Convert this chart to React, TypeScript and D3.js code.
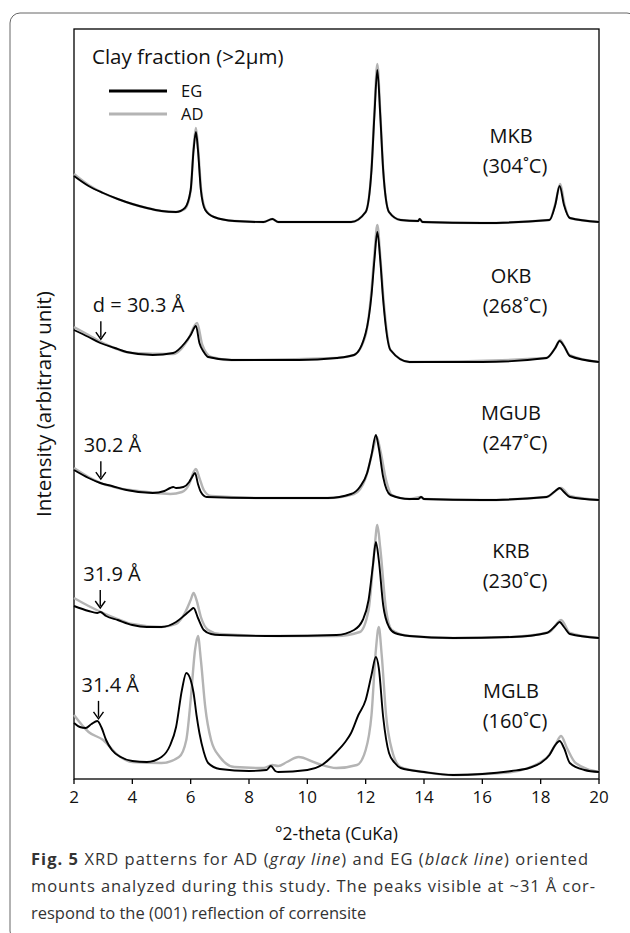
import React from "react";
import * as d3 from "d3";

// 2-theta ticks
const twoThetaTicks = [2, 4, 6, 8, 10, 12, 14, 16, 18, 20];

// samples from top to bottom
const sampleNames = ["MKB", "OKB", "MGUB", "KRB", "MGLB"];
const sampleTemps = ["304", "268", "247", "230", "160"];
const stackOffsets = [555, 415, 278, 140, 0];
const peakLabels = ["", "d = 30.3 Å", "30.2 Å", "31.9 Å", "31.4 Å"];
const peakPositions = [NaN, 2.92, 2.92, 2.9, 2.84];

type Pt = [number, number];

// [2theta, intensity above the sample's own baseline]
const mkbEG: Pt[] = [
  [2, 48], [2.5, 38], [3, 31], [3.5, 25], [4, 20], [4.5, 16], [5, 13], [5.5, 12], [5.8, 16],
  [6.0, 34], [6.1, 74], [6.18, 92], [6.25, 74], [6.35, 34], [6.5, 14], [6.8, 7], [7.5, 3],
  [8.5, 2], [8.8, 5], [9.0, 2], [11.5, 2], [12.0, 12], [12.2, 54], [12.3, 109], [12.4, 154],
  [12.5, 109], [12.6, 54], [12.8, 12], [13.2, 4], [13.8, 3], [13.85, 5], [13.95, 2], [16, 1],
  [18.3, 4], [18.5, 19], [18.65, 38], [18.8, 19], [19.0, 6], [20, 2],
];
const mkbAD: Pt[] = [
  [2, 50], [2.5, 39], [3, 31], [3.5, 25], [4, 20], [4.5, 16], [5, 13], [5.5, 12], [5.8, 15],
  [6.0, 33], [6.1, 76], [6.18, 96], [6.26, 74], [6.36, 34], [6.5, 15], [6.8, 7], [7.5, 3],
  [8.5, 2], [8.8, 5], [9.0, 2], [11.5, 2], [12.0, 12], [12.2, 55], [12.3, 113], [12.4, 160],
  [12.5, 112], [12.6, 55], [12.8, 12], [13.2, 4], [13.8, 3], [13.85, 5], [13.95, 2], [16, 1],
  [18.3, 4], [18.5, 20], [18.67, 40], [18.82, 19], [19.0, 6], [20, 2],
];
const okbEG: Pt[] = [
  [2, 34], [2.5, 27], [2.9, 21], [3.4, 16], [3.8, 12], [4.7, 9], [5.4, 11], [5.8, 21],
  [6.0, 29], [6.18, 38], [6.3, 21], [6.45, 12], [6.6, 7], [7.4, 4], [9.7, 4], [11.0, 6],
  [11.6, 9], [12.0, 31], [12.2, 69], [12.3, 104], [12.4, 132], [12.5, 104], [12.6, 64],
  [12.85, 14], [13.5, 2], [16, 2], [18.2, 6], [18.5, 16], [18.65, 23], [18.8, 18], [19.0, 8],
  [20, 2],
];
const okbAD: Pt[] = [
  [2, 37], [2.5, 29], [3, 21], [4, 11], [5.4, 10], [5.9, 24], [6.22, 41], [6.4, 19], [6.7, 7],
  [7.4, 4], [11.0, 6], [11.6, 9], [12.0, 29], [12.2, 74], [12.3, 110], [12.4, 139], [12.5, 108],
  [12.6, 69], [12.85, 14], [13.5, 2], [18.2, 6], [18.5, 16], [18.67, 24], [18.82, 17], [19, 9],
  [20, 2],
];
const mgubEG: Pt[] = [
  [2, 31], [2.5, 23], [2.9, 18], [3.3, 15], [3.8, 11], [4.7, 8], [5.1, 10], [5.3, 13], [5.4, 14],
  [5.5, 13], [5.75, 14], [5.95, 19], [6.05, 24], [6.15, 28], [6.25, 17], [6.35, 9], [6.55, 4],
  [8.4, 3], [10.7, 3], [11.5, 7], [11.8, 14], [12.05, 28], [12.2, 46], [12.35, 66], [12.45, 53],
  [12.6, 24], [12.85, 6], [13.5, 2], [13.8, 2], [13.9, 4], [14.0, 2], [16, 1], [18.2, 4],
  [18.5, 10], [18.65, 13], [18.8, 9], [19.0, 4], [20, 1],
];
const mgubAD: Pt[] = [
  [2, 33], [2.5, 24], [3, 17], [3.5, 13], [4.5, 9], [5.3, 7], [5.7, 9], [5.95, 17], [6.1, 29],
  [6.18, 32], [6.3, 23], [6.45, 11], [6.7, 5], [8.5, 3], [10.7, 3], [11.6, 7], [12.0, 23],
  [12.25, 51], [12.38, 64], [12.5, 51], [12.7, 21], [12.9, 6], [13.5, 2], [13.9, 4], [14.0, 2],
  [16, 1], [18.2, 4], [18.7, 13], [19.0, 5], [20, 1],
];
const krbEG: Pt[] = [
  [2, 33], [2.5, 28], [2.8, 26], [2.9, 27], [3.1, 23], [3.5, 19], [4, 14], [4.5, 12], [5, 12],
  [5.5, 17], [5.8, 24], [6.0, 29], [6.1, 31], [6.25, 21], [6.45, 9], [6.7, 5], [7, 4], [9, 3],
  [11, 4], [11.6, 9], [11.9, 19], [12.1, 39], [12.25, 74], [12.35, 97], [12.45, 79], [12.6, 34],
  [12.8, 12], [13, 6], [13.5, 3], [15, 1], [17, 2], [18.2, 6], [18.5, 13], [18.65, 17],
  [18.8, 12], [19.0, 5], [20, 1],
];
const krbAD: Pt[] = [
  [2, 41], [2.5, 33], [3, 26], [3.5, 20], [4, 15], [5, 12], [5.5, 15], [5.8, 26], [6.0, 39],
  [6.1, 46], [6.2, 39], [6.35, 22], [6.6, 9], [7, 5], [9, 3], [11, 3], [11.8, 7], [12.1, 29],
  [12.3, 89], [12.4, 114], [12.5, 91], [12.7, 29], [12.9, 9], [13.5, 3], [15, 1], [17, 2],
  [18.3, 7], [18.7, 19], [19, 6], [20, 1],
];
const mglbEG: Pt[] = [
  [2, 56], [2.2, 52], [2.4, 51], [2.6, 55], [2.8, 58], [2.95, 51], [3.1, 39], [3.3, 29],
  [3.6, 22], [4.0, 18], [4.5, 17], [5.0, 22], [5.3, 34], [5.5, 52], [5.7, 89], [5.85, 106],
  [6.0, 99], [6.1, 86], [6.2, 64], [6.3, 46], [6.45, 27], [6.6, 16], [7, 10], [8, 8], [8.6, 9],
  [8.75, 13], [8.9, 8], [9, 7], [10, 9], [10.5, 14], [11, 27], [11.3, 37], [11.5, 46],
  [11.75, 64], [12.0, 79], [12.2, 104], [12.35, 122], [12.45, 111], [12.6, 62], [12.8, 26],
  [13.0, 16], [13.2, 11], [14, 7], [15, 4], [16, 5], [17, 8], [17.6, 11], [18.0, 16], [18.3, 24],
  [18.5, 34], [18.65, 38], [18.8, 31], [19, 16], [19.5, 9], [20, 7],
];
const mglbAD: Pt[] = [
  [2, 64], [2.5, 47], [3, 39], [3.5, 24], [4, 17], [5, 16], [5.6, 22], [5.85, 39], [6.0, 79],
  [6.15, 129], [6.25, 143], [6.35, 119], [6.5, 72], [6.7, 39], [7, 22], [7.5, 12], [8.5, 11],
  [8.8, 14], [9.0, 13], [9.3, 17], [9.7, 22], [10.3, 16], [11, 11], [11.7, 14], [12.0, 29],
  [12.2, 64], [12.35, 129], [12.45, 152], [12.55, 124], [12.7, 64], [12.9, 29], [13.2, 12],
  [14, 7], [15, 4], [16, 5], [17, 7], [18.2, 21], [18.5, 34], [18.7, 43], [18.9, 31], [19.2, 16],
  [20, 7],
];

const egSeries = [mkbEG, okbEG, mgubEG, krbEG, mglbEG];
const adSeries = [mkbAD, okbAD, mgubAD, krbAD, mglbAD];

const chartFont = "'Open Sans', sans-serif";

function valueAt(series: Pt[], t: number) {
  for (let i = 1; i < series.length; i++) {
    if (series[i][0] >= t) {
      const [x0, y0] = series[i - 1];
      const [x1, y1] = series[i];
      return y0 + ((t - x0) / (x1 - x0)) * (y1 - y0);
    }
  }
  return series[series.length - 1][1];
}

export default function App() {
  const width = 630;
  const height = 933;
  const x = d3.scaleLinear().domain([2, 20]).range([74, 599]);
  const y = d3.scaleLinear().domain([0, 750]).range([779, 29]);

  const lineFor = (offset: number) =>
    d3
      .line<Pt>()
      .x((d) => x(d[0]))
      .y((d) => y(d[1] + offset))
      .curve(d3.curveMonotoneX);

  const [x0, x1] = x.range();
  const [yb, yt] = y.range();

  return (
    <svg
      width={width}
      height={height}
      style={{ position: "absolute", left: 0, top: 0, background: "#fff" }}
    >
      {/* outer frame */}
      <rect x={10} y={13} width={627} height={928} rx={10} fill="none" stroke="#666" strokeWidth={1} />

      {/* plot frame */}
      <rect x={x0} y={yt} width={x1 - x0} height={yb - yt} fill="none" stroke="#000" strokeWidth={1.3} />

      {/* patterns */}
      {adSeries.map((s, i) => (
        <path key={"ad" + i} d={lineFor(stackOffsets[i])(s) || ""} fill="none" stroke="#b4b4b4" strokeWidth={2.4} />
      ))}
      {egSeries.map((s, i) => (
        <path key={"eg" + i} d={lineFor(stackOffsets[i])(s) || ""} fill="none" stroke="#000" strokeWidth={1.9} />
      ))}

      {/* sample names */}
      {sampleNames.map((n, i) => (
        <g key={n} fontFamily={chartFont} fontSize={20} textAnchor="middle" fill="#111">
          <text x={511} y={y(stackOffsets[i] + 88) + 7}>{n}</text>
          <text x={515} y={y(stackOffsets[i] + 58) + 7}>({sampleTemps[i]}˚C)</text>
        </g>
      ))}

      {/* d-spacing arrows */}
      {peakLabels.map((lab, i) => {
        if (!lab) return null;
        const ax = x(peakPositions[i]);
        const tip = y(stackOffsets[i] + valueAt(egSeries[i], peakPositions[i])) - 4;
        const top = tip - 18;
        return (
          <g key={lab}>
            <line x1={ax} x2={ax} y1={top} y2={tip - 2} stroke="#000" strokeWidth={1.4} />
            <path d={`M${ax - 5},${tip - 7} L${ax},${tip} L${ax + 5},${tip - 7}`} fill="none" stroke="#000" strokeWidth={1.4} />
            <text x={ax - (i === 1 ? 8 : 17)} y={top - 9} fontFamily={chartFont} fontSize={20} fill="#111">
              {lab}
            </text>
          </g>
        );
      })}

      {/* x axis ticks */}
      {twoThetaTicks.map((t) => (
        <g key={t}>
          <line x1={x(t)} x2={x(t)} y1={yb} y2={yb + 5} stroke="#000" strokeWidth={1.3} />
          <text x={x(t)} y={yb + 24} textAnchor="middle" fontFamily={chartFont} fontSize={17} fill="#111">
            {t}
          </text>
        </g>
      ))}
      <text x={(x0 + x1) / 2} y={840} textAnchor="middle" fontFamily={chartFont} fontSize={17.5} fill="#111">
        °2-theta (CuKa)
      </text>
      <text
        transform={`translate(51,${(yb + yt) / 2}) rotate(-90)`}
        textAnchor="middle"
        fontFamily={chartFont}
        fontSize={20.5}
        fill="#111"
      >
        Intensity (arbitrary unit)
      </text>

      {/* legend */}
      <text x={92} y={64} fontFamily={chartFont} fontSize={20.5} fill="#111">
        Clay fraction (&gt;2μm)
      </text>
      <line x1={109} x2={167} y1={91} y2={91} stroke="#000" strokeWidth={3} />
      <text x={181} y={97} fontFamily={chartFont} fontSize={16.5} fill="#111">EG</text>
      <line x1={109} x2={167} y1={114} y2={114} stroke="#b4b4b4" strokeWidth={3} />
      <text x={181} y={120} fontFamily={chartFont} fontSize={16.5} fill="#111">AD</text>

      {/* caption */}
      <g fontFamily="'Open Sans', sans-serif" fontSize={16.5} fill="#333">
        <text x={31} y={865} textLength={557} lengthAdjust="spacing">
          <tspan fontWeight="bold">Fig. 5</tspan>
          {"  XRD patterns for AD ("}
          <tspan fontStyle="italic">gray line</tspan>
          {") and EG ("}
          <tspan fontStyle="italic">black line</tspan>
          {") oriented"}
        </text>
        <text x={31} y={892} textLength={564} lengthAdjust="spacing">
          mounts analyzed during this study. The peaks visible at ~31 Å cor-
        </text>
        <text x={31} y={919}>respond to the (001) reflection of corrensite</text>
      </g>
    </svg>
  );
}
